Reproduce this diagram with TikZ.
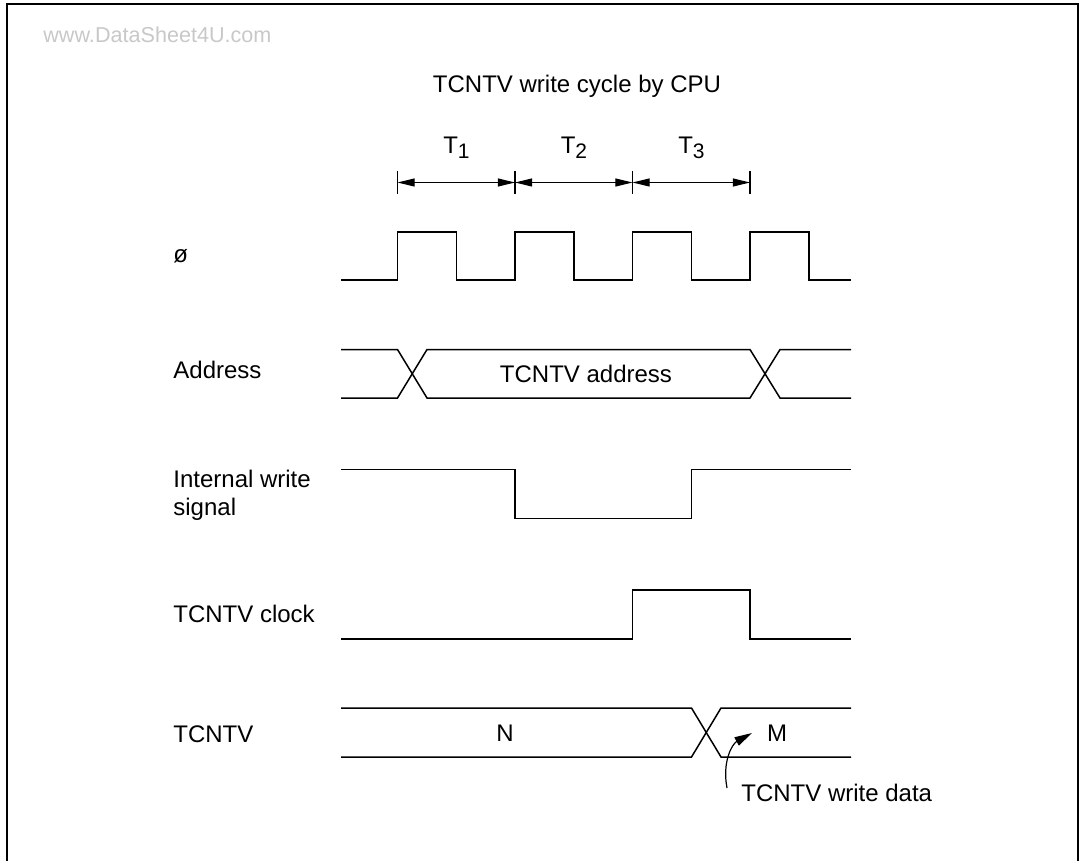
\documentclass[tikz,border=0pt]{standalone}
\usepackage{fontspec}
\setmainfont{Liberation Sans}
\usetikzlibrary{arrows.meta}
\definecolor{wmgray}{RGB}{200,200,200}
\tikzset{
  sig/.style={line width=0.75pt, line join=miter},
  frameline/.style={line width=1pt},
  lbl/.style={anchor=base west, inner sep=0pt, font=\fontsize{12}{14}\selectfont},
  txt/.style={anchor=base, inner sep=0pt, font=\fontsize{12}{14}\selectfont},
  dimline/.style={line width=0.6pt, {Triangle[length=8.6pt,width=4pt]}-{Triangle[length=8.6pt,width=4pt]}},
  tickline/.style={line width=0.6pt},
  callout/.style={line width=0.6pt, -{Triangle[length=8.8pt,width=4.6pt]}},
  wmark/.style={anchor=base west, inner sep=0pt, text=wmgray, font=\fontsize{10.8}{13}\selectfont}
}
\newcommand{\tsub}[1]{T\raisebox{-2.2pt}{\fontsize{10.5}{12}\selectfont #1}}
\begin{document}
\begin{tikzpicture}[x=0.5pt,y=-0.5pt]
\useasboundingbox (0,0) rectangle (1081,861);
% frame (open at bottom)
\draw[frameline] (7.3,861) -- (7.3,4.3) -- (1077.7,4.3) -- (1077.7,861);
\node[wmark] (wm) at (43,43) {www.DataSheet4U.com};
% title
\node[txt] (title) at (577,93) {TCNTV write cycle by CPU};
% period ticks
\coordinate (k0) at (397.5,182.5);
\coordinate (k1) at (515,182.5);
\coordinate (k2) at (632.5,182.5);
\coordinate (k3) at (750,182.5);
\foreach \k in {k0,k1,k2,k3}{
  \draw[tickline] (\k) ++(0,-11.5) -- ++(0,23);
}
\draw[dimline] (k0) -- (k1);
\draw[dimline] (k1) -- (k2);
\draw[dimline] (k2) -- (k3);
\node[txt] (t1) at (456.5,154) {\tsub{1}};
\node[txt] (t2) at (574,154) {\tsub{2}};
\node[txt] (t3) at (691.5,154) {\tsub{3}};
% labels
\node[lbl] (lphi) at (173,263) {ø};
\node[lbl] (laddr) at (173,378) {Address};
\node[lbl] (lws1) at (173,487) {Internal write};
\node[lbl] (lws2) at (173,515) {signal};
\node[lbl] (lclk) at (173,622) {TCNTV clock};
\node[lbl] (ltcn) at (173,742) {TCNTV};
% clock
\draw[sig] (341,280) -- (397.5,280) -- (397.5,232) -- (456.5,232) -- (456.5,280)
  -- (515,280) -- (515,232) -- (574,232) -- (574,280) -- (632.5,280) -- (632.5,232)
  -- (691.5,232) -- (691.5,280) -- (750,280) -- (750,232) -- (809,232) -- (809,280) -- (851,280);
% address bus
\draw[sig] (341,349.5) -- (397.5,349.5) -- (427,398) -- (750,398) -- (780,349.5) -- (851,349.5);
\draw[sig] (341,398) -- (397.5,398) -- (427,349.5) -- (750,349.5) -- (780,398) -- (851,398);
\node[txt] (addrtxt) at (586,382) {TCNTV address};
% internal write signal
\draw[sig] (341,469.5) -- (515,469.5) -- (515,518.5) -- (691.5,518.5) -- (691.5,469.5) -- (851,469.5);
% TCNTV clock
\draw[sig] (341,639) -- (632.5,639) -- (632.5,590) -- (750,590) -- (750,639) -- (851,639);
% TCNTV data
\draw[sig] (341,708) -- (691.5,708) -- (721,757) -- (851,757);
\draw[sig] (341,757) -- (691.5,757) -- (721,708) -- (851,708);
\node[txt] (ntxt) at (505,741) {N};
\node[txt] (mtxt) at (777,741) {M};
% callout
\node[lbl] (wdata) at (741,801) {TCNTV write data};
\coordinate (cstart) at (727,788);
\coordinate (ctip) at (752,733);
\draw[callout] (cstart) .. controls (722,762) and (732,744) .. (ctip);
\end{tikzpicture}
\end{document}
